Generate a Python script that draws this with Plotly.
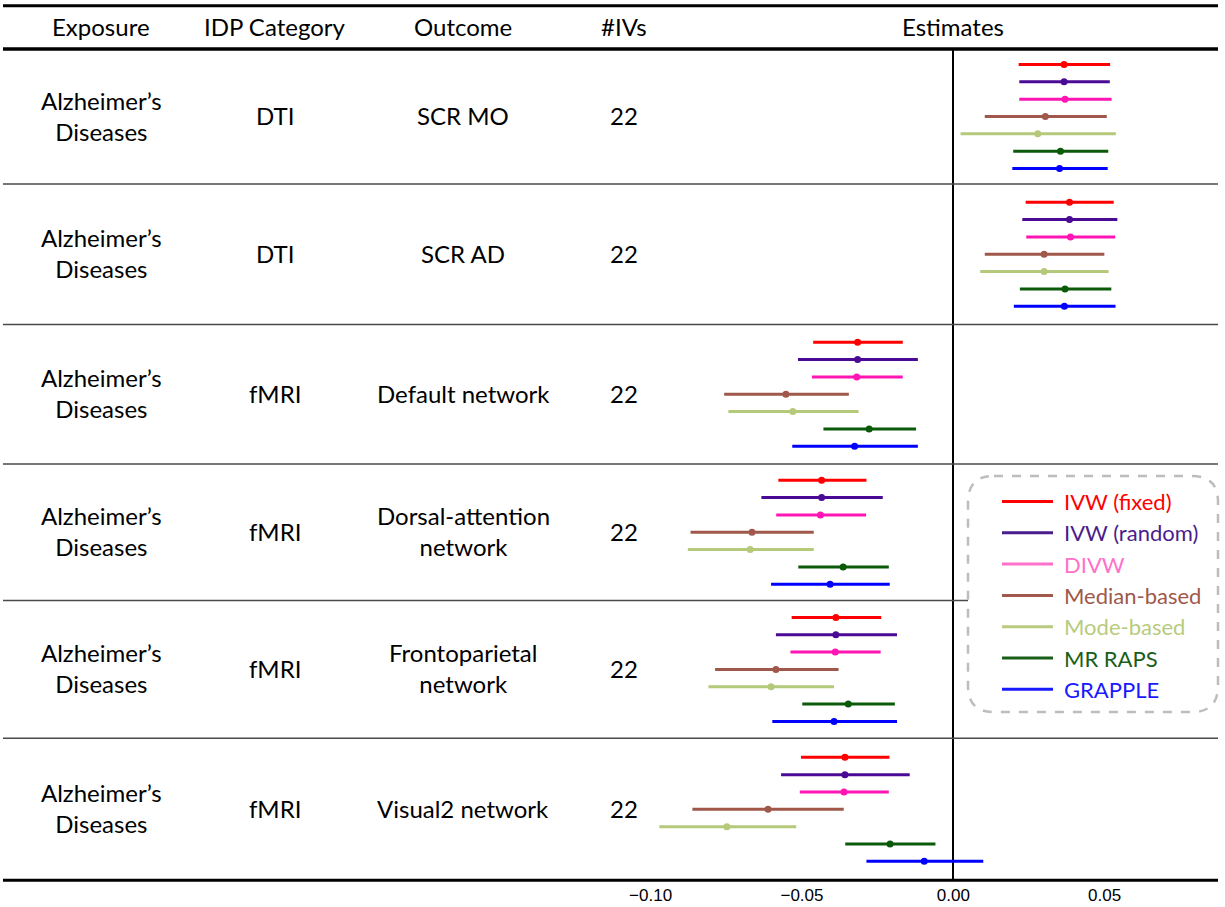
import plotly.graph_objects as go

# ---------------- data ----------------
methods = ["IVW (fixed)", "IVW (random)", "DIVW", "Median-based", "Mode-based", "MR RAPS", "GRAPPLE"]
exposures = ["Alzheimer’s<br>Diseases"] * 6
idp_categories = ["DTI", "DTI", "fMRI", "fMRI", "fMRI", "fMRI"]
outcomes = ["SCR MO", "SCR AD", "Default network", "Dorsal-attention<br>network",
            "Frontoparietal<br>network", "Visual2 network"]
n_ivs = [22, 22, 22, 22, 22, 22]

# estimates[row][method]
estimates = [
    [0.0366, 0.0366, 0.0369, 0.0304, 0.0279, 0.0354, 0.0351],
    [0.0384, 0.0384, 0.0387, 0.0300, 0.0300, 0.0369, 0.0367],
    [-0.0316, -0.0316, -0.0319, -0.0553, -0.0530, -0.0278, -0.0326],
    [-0.0435, -0.0435, -0.0439, -0.0665, -0.0671, -0.0364, -0.0407],
    [-0.0388, -0.0388, -0.0390, -0.0586, -0.0602, -0.0347, -0.0394],
    [-0.0358, -0.0358, -0.0361, -0.0612, -0.0748, -0.0209, -0.0096],
]
lower = [
    [0.0216, 0.0218, 0.0218, 0.0104, 0.0024, 0.0198, 0.0195],
    [0.0239, 0.0228, 0.0241, 0.0104, 0.0089, 0.0220, 0.0200],
    [-0.0463, -0.0513, -0.0467, -0.0757, -0.0743, -0.0429, -0.0532],
    [-0.0578, -0.0634, -0.0585, -0.0868, -0.0877, -0.0512, -0.0602],
    [-0.0534, -0.0586, -0.0538, -0.0787, -0.0809, -0.0499, -0.0598],
    [-0.0503, -0.0569, -0.0507, -0.0862, -0.0971, -0.0357, -0.0287],
]
upper = [
    [0.0518, 0.0517, 0.0523, 0.0507, 0.0537, 0.0512, 0.0510],
    [0.0530, 0.0542, 0.0535, 0.0499, 0.0513, 0.0522, 0.0536],
    [-0.0167, -0.0117, -0.0167, -0.0345, -0.0313, -0.0123, -0.0117],
    [-0.0287, -0.0233, -0.0288, -0.0461, -0.0461, -0.0213, -0.0210],
    [-0.0238, -0.0186, -0.0240, -0.0379, -0.0394, -0.0193, -0.0186],
    [-0.0211, -0.0144, -0.0213, -0.0362, -0.0519, -0.0059, 0.0099],
]
tick_values = [-0.10, -0.05, 0.00, 0.05]
tick_labels = ["−0.10", "−0.05", "0.00", "0.05"]
headers = ["Exposure", "IDP Category", "Outcome", "#IVs", "Estimates"]

# ---------------- styles / layout ----------------
colors = ["#FF0000", "#4B0A96", "#FF14B4", "#A0584A", "#B5C97A", "#0A5A0A", "#0000FF"]
legend_colors = ["#FF0000", "#4B1C8C", "#FF70CC", "#A0584A", "#B8CB7E", "#1A5E1A", "#1A1AFF"]

W, H = 1225, 907
FONT = "Lato, 'Open Sans', sans-serif"
col_x = [101, 275, 463, 624, 953]  # column centres (px)
top_line = 5.7
row_edges = [49.0, 184.0, 324.5, 464.0, 600.5, 738.3, 880.3]  # table rules (px from top)
line_gap = 17.33  # vertical gap between method lines (px)
n_rows = len(outcomes)
row_centers = [(row_edges[r] + row_edges[r + 1]) / 2 for r in range(n_rows)]


def px(x):
    return x / W


def py(y):
    return 1 - y / H


fig = go.Figure()

for j, m in enumerate(methods):
    xs = [estimates[r][j] for r in range(n_rows)]
    ys = [row_centers[r] + (j - 3) * line_gap for r in range(n_rows)]
    plus = [upper[r][j] - estimates[r][j] for r in range(n_rows)]
    minus = [estimates[r][j] - lower[r][j] for r in range(n_rows)]
    fig.add_trace(go.Scatter(
        x=xs, y=ys, mode="markers", name=m,
        marker=dict(color=colors[j], size=7),
        error_x=dict(type="data", symmetric=False, array=plus, arrayminus=minus,
                     color=colors[j], thickness=3, width=0),
        showlegend=False, hoverinfo="skip",
    ))

xa, xb = 645, 1225
zero_px, unit_px = 953.3, 3027.0
fig.update_xaxes(
    domain=[px(xa), px(xb)],
    range=[(xa - zero_px) / unit_px, (xb - zero_px) / unit_px],
    tickvals=tick_values, ticktext=tick_labels,
    tickfont=dict(family="'Liberation Sans', Arial, sans-serif", size=17, color="black"),
    ticklabelstandoff=3,
    showgrid=False, showline=False, ticks="",
    zeroline=True, zerolinecolor="black", zerolinewidth=1.5,
    fixedrange=True, automargin=False,
)
fig.update_yaxes(
    domain=[py(row_edges[-1]), py(row_edges[0])],
    range=[row_edges[-1], row_edges[0]], showgrid=False, showticklabels=False,
    zeroline=False, showline=False, ticks="", fixedrange=True, automargin=False,
)

shapes = []
# thick rules
for yy, w in [(top_line, 3), (row_edges[0], 3.5), (row_edges[-1], 3)]:
    shapes.append(dict(type="line", xref="paper", yref="paper", x0=px(3), x1=px(1218),
                       y0=py(yy), y1=py(yy), line=dict(color="black", width=w)))
# row separators
for yy in row_edges[1:-1]:
    shapes.append(dict(type="line", xref="paper", yref="paper", x0=px(3), x1=px(1218),
                       y0=py(yy), y1=py(yy), line=dict(color="#4a4a4a", width=1.4)))

# legend box (rounded, dashed)
lx0, lx1, ly0, ly1, rad = 968, 1218, 476, 712, 26
rx, ry = rad / W, rad / H
X0, X1, Y0, Y1 = px(lx0), px(lx1), py(ly0), py(ly1)
path = (f"M {X0+rx},{Y0} L {X1-rx},{Y0} Q {X1},{Y0} {X1},{Y0-ry} "
        f"L {X1},{Y1+ry} Q {X1},{Y1} {X1-rx},{Y1} "
        f"L {X0+rx},{Y1} Q {X0},{Y1} {X0},{Y1+ry} "
        f"L {X0},{Y0-ry} Q {X0},{Y0} {X0+rx},{Y0} Z")
shapes.append(dict(type="path", xref="paper", yref="paper", path=path,
                   fillcolor="white", line=dict(color="#BDBDBD", width=2.5, dash="dash")))

annotations = []
leg_y0, leg_dy = 501.5, 31.3
for j, m in enumerate(methods):
    yy = leg_y0 + j * leg_dy
    shapes.append(dict(type="line", xref="paper", yref="paper", x0=px(1002), x1=px(1053),
                       y0=py(yy), y1=py(yy), line=dict(color=legend_colors[j], width=3)))
    annotations.append(dict(xref="paper", yref="paper", x=px(1062), y=py(yy), text=m,
                            xanchor="left", yanchor="middle", showarrow=False,
                            font=dict(family=FONT, size=22, color=legend_colors[j])))

# header
for cx, t in zip(col_x, headers):
    annotations.append(dict(xref="paper", yref="paper", x=px(cx), y=py(26), text=t,
                            xanchor="center", yanchor="middle", showarrow=False,
                            font=dict(family=FONT, size=24, color="black")))

# table body
for r in range(n_rows):
    cells = [exposures[r], idp_categories[r], outcomes[r], str(n_ivs[r])]
    for cx, t in zip(col_x[:4], cells):
        annotations.append(dict(xref="paper", yref="paper", x=px(cx), y=py(row_centers[r] - 1),
                                text=t, xanchor="center", yanchor="middle", showarrow=False,
                                font=dict(family=FONT, size=24, color="black")))

fig.update_layout(
    width=W, height=H, autosize=False,
    margin=dict(l=0, r=0, t=0, b=0, pad=0, autoexpand=False),
    paper_bgcolor="white", plot_bgcolor="white",
    shapes=shapes, annotations=annotations, showlegend=False,
)

fig.write_html("out.html",
               config={"responsive": False, "displayModeBar": False},
               post_script="document.body.style.margin='0';document.body.style.overflow='hidden';")
